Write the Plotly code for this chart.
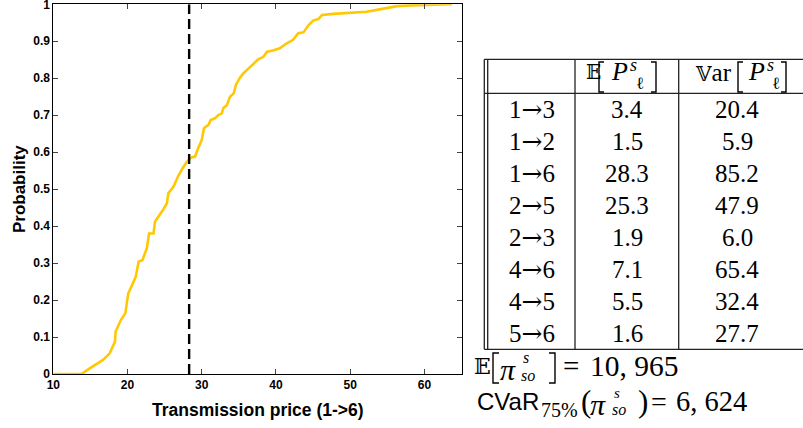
import plotly.graph_objects as go

W, H = 803, 428

# ---------------- data ----------------
cdf_price = [10.0, 13.8, 14.9, 16.7, 17.6, 18.3, 18.4, 19.1, 19.7, 20.1, 20.6, 21.1,
             21.5, 22.0, 22.6, 22.9, 23.5, 23.7, 24.3, 24.8, 25.3, 25.5, 26.2, 26.8,
             27.4, 28.0, 28.6, 29.1, 29.5, 30.0, 30.3, 30.9, 31.2, 31.8, 32.2, 32.7,
             32.9, 33.4, 33.8, 34.3, 34.6, 35.1, 35.6, 36.3, 37.0, 37.6, 38.3, 38.8,
             39.6, 40.5, 41.4, 42.3, 43.0, 43.7, 44.4, 45.0, 45.7, 46.2, 47.7, 50.0,
             52.2, 53.6, 54.9, 56.3, 58.1, 61.2, 63.7]
cdf_prob = [0.0, 0.0, 0.015, 0.038, 0.056, 0.087, 0.115, 0.146, 0.164, 0.218, 0.240, 0.263,
            0.304, 0.308, 0.340, 0.380, 0.380, 0.412, 0.430, 0.444, 0.462, 0.489, 0.507, 0.534,
            0.556, 0.574, 0.586, 0.588, 0.610, 0.633, 0.665, 0.674, 0.687, 0.692, 0.700, 0.705,
            0.719, 0.728, 0.750, 0.759, 0.782, 0.800, 0.813, 0.827, 0.840, 0.851, 0.858, 0.872,
            0.875, 0.881, 0.894, 0.904, 0.922, 0.924, 0.944, 0.956, 0.960, 0.971, 0.974, 0.977,
            0.980, 0.985, 0.989, 0.995, 0.997, 0.999, 1.0]

x_ticks = [10, 20, 30, 40, 50, 60]
y_ticks = [0, 0.1, 0.2, 0.3, 0.4, 0.5, 0.6, 0.7, 0.8, 0.9, 1]
y_tick_labels = ["0", "0.1", "0.2", "0.3", "0.4", "0.5", "0.6", "0.7", "0.8", "0.9", "1"]

routes = ["1→3", "1→2", "1→6", "2→5", "2→3", "4→6", "4→5", "5→6"]
mean_price = [3.4, 1.5, 28.3, 25.3, 1.9, 7.1, 5.5, 1.6]
var_price = [20.4, 5.9, 85.2, 47.9, 6.0, 65.4, 32.4, 27.7]
highlight_route = "1→6"
expected_profit = "10, 965"
cvar_profit = "6, 624"

mean_line = mean_price[routes.index(highlight_route)]

# ---------------- figure ----------------
SANS = "Liberation Sans, Arial, sans-serif"
SERIF = "Liberation Serif, DejaVu Serif, serif"
DS = "DejaVu Serif, DejaVu Sans, serif"

fig = go.Figure()
fig.add_trace(go.Scatter(x=cdf_price, y=cdf_prob, mode="lines",
                         line=dict(color="#FFC800", width=2.6), hoverinfo="skip",
                         showlegend=False))
fig.add_trace(go.Scatter(x=[mean_line, mean_line], y=[0, 1], mode="lines",
                         line=dict(color="black", width=2.4, dash="10px,5px"),
                         hoverinfo="skip", showlegend=False))

axis_common = dict(showline=True, linecolor="black", linewidth=1, mirror="ticks",
                   ticks="inside", ticklen=5, tickcolor="#444", tickwidth=1,
                   showgrid=False, zeroline=False, automargin=False,
                   ticklabeloverflow="allow",
                   tickfont=dict(family=SANS, size=12, color="black", weight="bold"))

fig.update_layout(
    width=W, height=H, margin=dict(l=0, r=0, t=0, b=0),
    paper_bgcolor="white", plot_bgcolor="white",
    xaxis=dict(domain=[53.3 / W, 462.3 / W], range=[10, 65.1], tickvals=x_ticks,
               title=dict(text="Transmission price (1->6)", standoff=12,
                          font=dict(family=SANS, size=17.5, color="black", weight="bold")),
               **axis_common),
    yaxis=dict(domain=[1 - 374 / H, 1 - 4.3 / H], range=[0, 1], tickvals=y_ticks,
               ticktext=y_tick_labels,
               title=dict(text="Probability", standoff=3,
                          font=dict(family=SANS, size=17, color="black", weight="bold")),
               **axis_common),
)


def px(x):
    return x / W


def py(y):
    return 1 - y / H


def txt(s, x, y, size=25, family=SERIF, xanchor="center", yanchor="middle"):
    fig.add_annotation(text=s, x=px(x), y=py(y), xref="paper", yref="paper",
                       showarrow=False, xanchor=xanchor, yanchor=yanchor, borderpad=0,
                       font=dict(size=size, family=family, color="black"))


def line(x0, y0, x1, y1, w=1.3):
    fig.add_shape(type="line", xref="paper", yref="paper", x0=px(x0), y0=py(y0),
                  x1=px(x1), y1=py(y1), line=dict(color="#222", width=w))


def bracket(x_in, x_out, y0, y1):
    path = (f"M {px(x_in)},{py(y0)} L {px(x_out)},{py(y0)} "
            f"L {px(x_out)},{py(y1)} L {px(x_in)},{py(y1)}")
    fig.add_shape(type="path", xref="paper", yref="paper", path=path,
                  line=dict(color="black", width=1.4))


def dstruck(ch, size):
    return f'<span style="font-family:DejaVu Serif;font-size:{size}px">{ch}</span>'


# table grid
top, hdr, bot = 59.3, 93.3, 349.3
line(484.3, top, W, top)
line(484.3, hdr, W, hdr)
line(484.3, bot, W, bot)
for xv in (484.3, 487.7, 575, 678.7):
    line(xv, top, xv, bot)

# header 1: E[P_l^s]
txt("𝔼", 585, 72, size=20, family=DS, xanchor="left")
bracket(604, 599, 62, 92)
txt("<i>P</i>", 610, 71, size=26, xanchor="left")
txt("<i>s</i>", 629, 65, size=18, xanchor="left")
txt("ℓ", 635, 83, size=17, xanchor="left")
bracket(651, 656, 62, 92)

# header 2: Var[P_l^s]
txt(dstruck("𝕍", 20) + "ar", 694, 72, size=25, xanchor="left")
bracket(743, 738, 62, 92)
txt("<i>P</i>", 747, 71, size=26, xanchor="left")
txt("<i>s</i>", 766, 65, size=18, xanchor="left")
txt("ℓ", 771, 83, size=17, xanchor="left")
bracket(781, 786, 62, 92)

# rows
ARROW = '<span style="font-family:DejaVu Serif">→</span>'
for i, (r, m, v) in enumerate(zip(routes, mean_price, var_price)):
    yy = 110 + 31.86 * i
    a, b = r.split("→")
    txt(a + ARROW + b, 532, yy)
    txt(f"{m:.1f}", 627, yy)
    txt(f"{v:.1f}", 737, yy)

# E[pi_so^s] = 10,965
txt("𝔼", 473, 366.5, size=22, family=DS, xanchor="left")
bracket(499, 493, 353, 383)
txt("<i>π</i>", 499, 369, size=30, xanchor="left")
txt("<i>s</i>", 522, 357, size=16, xanchor="left")
txt("<i>so</i>", 520, 375.5, size=16, xanchor="left")
bracket(549, 555, 353, 383)
txt("=", 562, 366, size=29, xanchor="left")
txt(expected_profit, 589, 366, size=29.5, xanchor="left")

# CVaR_75%(pi_so^s) = 6,624
txt("CVaR", 476, 401, size=24, family=SANS, xanchor="left")
txt("75%", 540, 410, size=20, xanchor="left")
txt("(", 580, 401, size=31, xanchor="left")
txt("<i>π</i>", 589, 404, size=30, xanchor="left")
txt("<i>s</i>", 613, 392.5, size=15, xanchor="left")
txt("<i>so</i>", 611, 409.5, size=16, xanchor="left")
txt(")", 637, 401, size=31, xanchor="left")
txt("=", 650, 401, size=28, xanchor="left")
txt(cvar_profit, 675, 401, size=28.5, xanchor="left")

fig.write_html("out.html", config={"displayModeBar": False},
               post_script="document.body.style.margin='0';")
